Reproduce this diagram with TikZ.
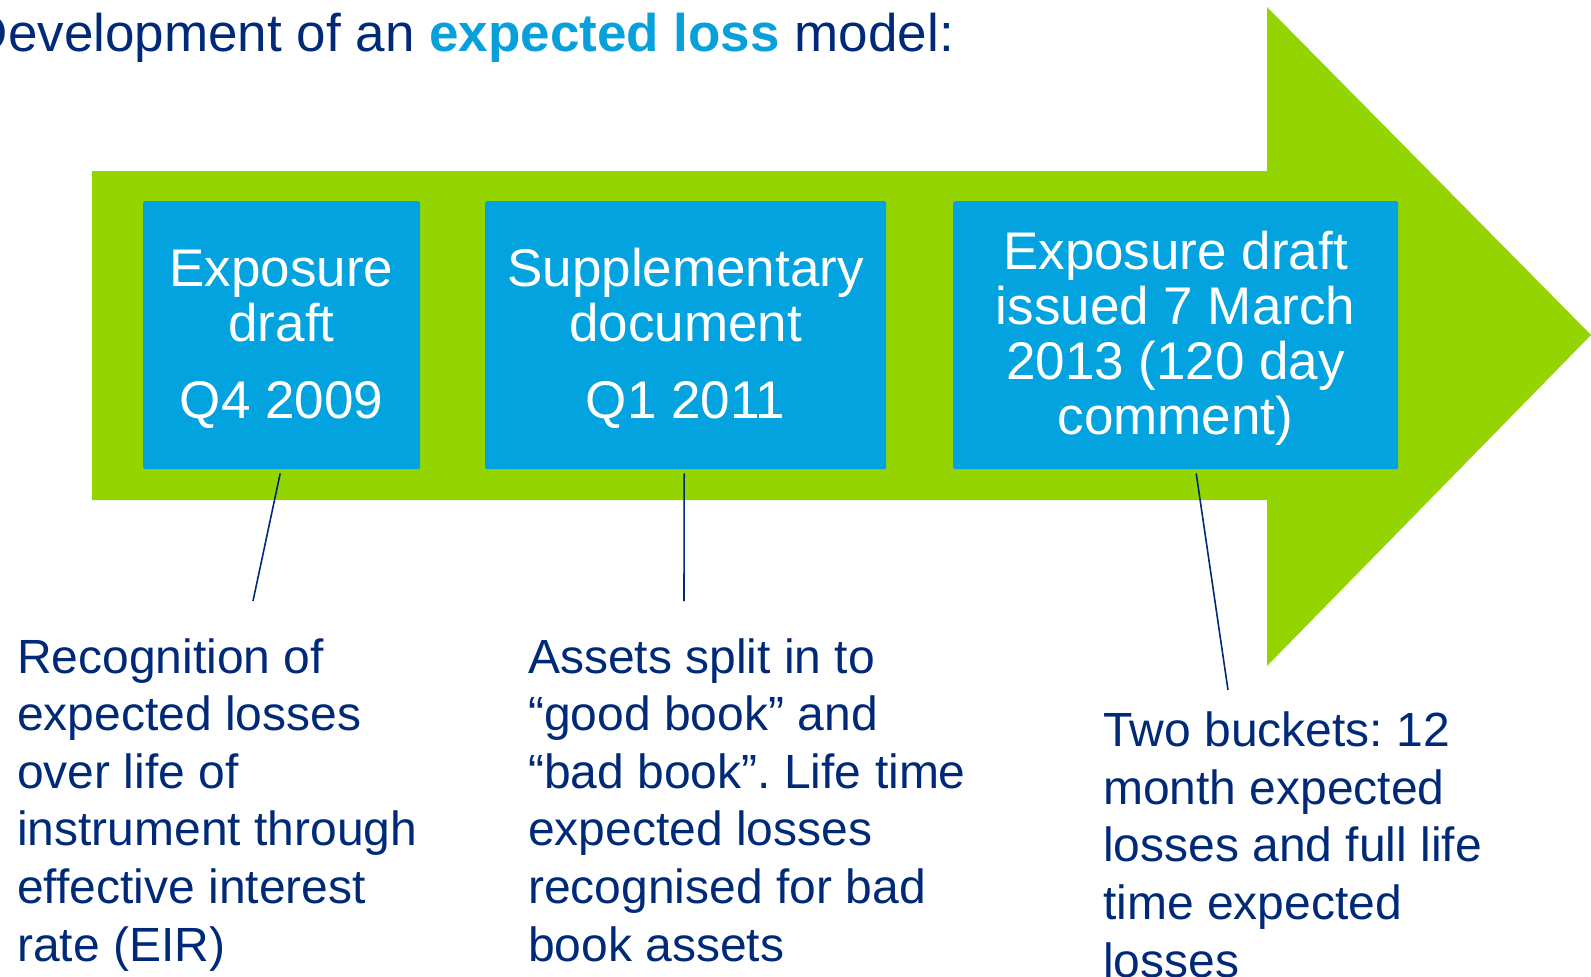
\documentclass[tikz,border=0pt]{standalone}
\usepackage{fontspec}
\setmainfont{Liberation Sans}
\definecolor{arrowgreen}{RGB}{148,212,0}
\definecolor{boxblue}{RGB}{3,163,223}
\definecolor{navy}{RGB}{0,42,120}
\definecolor{titleblue}{RGB}{8,160,218}
\frenchspacing
\begin{document}
\begin{tikzpicture}[x=1pt,y=-1pt,
  stagebox/.style={fill=boxblue, rounded corners=2pt, inner sep=0pt, anchor=north west, minimum height=268pt},
  boxtext/.style={text=white, font=\fontsize{53}{55}\selectfont, align=center, inner sep=0pt, anchor=base},
  desc/.style={text=navy, font=\fontsize{48}{57.6}\selectfont, align=left, inner sep=0pt, anchor=base west},
  leader/.style={draw=navy, line width=1.6pt}]
\useasboundingbox (0,0) rectangle (1591,977);
% big arrow
\fill[arrowgreen] (92,171) -- (1267,171) -- (1267,7) -- (1591,335) -- (1267,666) -- (1267,500) -- (92,500) -- cycle;
% title
\node[inner sep=0pt, anchor=base east, text=navy, font=\fontsize{53}{60}\selectfont] (title) at (954,51)
  {Development of an \textcolor{titleblue}{\bfseries expected loss} model:};
% stage boxes
\node[stagebox, minimum width=277pt] (b1) at (143,201) {};
\node[stagebox, minimum width=401pt] (b2) at (485,201) {};
\node[stagebox, minimum width=445pt] (b3) at (953,201) {};
% box texts (anchor base = baseline of last line)
\node[boxtext] (t1) at (281.5,418) {Exposure\\draft\\[22pt]Q4 2009};
\node[boxtext] (t2) at (685.5,418) {Supplementary\\document\\[22pt]Q1 2011};
\node[boxtext] (t3) at (1175.5,434) {Exposure draft\\issued 7 March\\2013 (120 day\\comment)};
% descriptions
\node[desc] (d1) at (17,961) {Recognition of\\expected losses\\over life of\\instrument through\\effective interest\\rate (EIR)};
\node[desc] (d2) at (528,961) {Assets split in to\\“good book” and\\“bad book”. Life time\\expected losses\\recognised for bad\\book assets};
\node[desc] (d3) at (1103,977) {Two buckets: 12\\month expected\\losses and full life\\time expected\\losses};
% leader lines
\coordinate (e1) at (253,601);
\coordinate (e2) at (684,601);
\coordinate (e3) at (1228,690);
\draw[leader] ([shift={(-1.5,4)}]b1.south) -- (e1);
\draw[leader] ([shift={(-1.5,4)}]b2.south) -- (e2);
\draw[leader] ([shift={(20.5,4)}]b3.south) -- (e3);
\end{tikzpicture}
\end{document}
